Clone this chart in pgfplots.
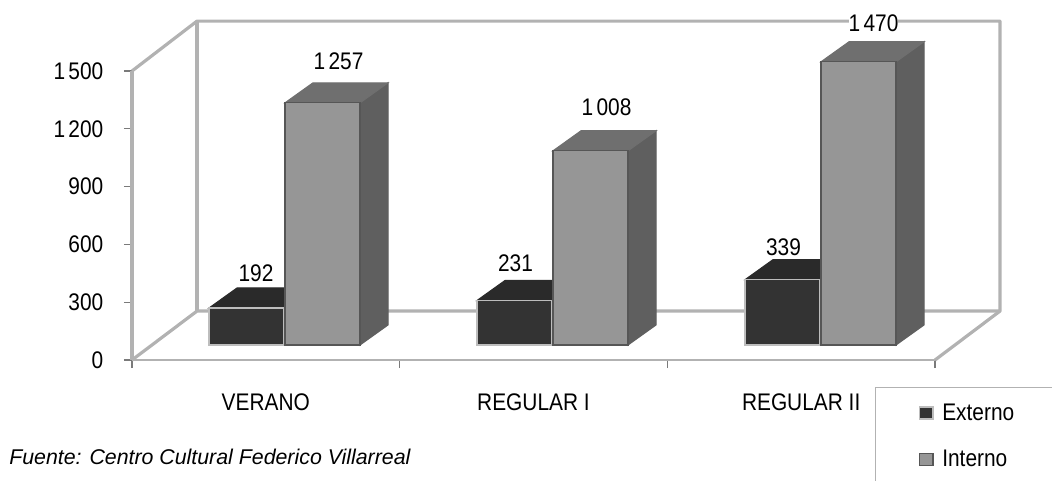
\documentclass[border=0pt]{standalone}
\usepackage{pgfplots}
\pgfplotsset{compat=1.18}
\usepackage{fontspec}
\setmainfont{Liberation Sans}[FakeStretch=0.87]
\newfontfamily\plainf{Liberation Sans}
\definecolor{wall}{HTML}{B2B2B2}
\definecolor{tickc}{HTML}{7A7A7A}
\definecolor{extF}{HTML}{333333}
\definecolor{extT}{HTML}{2A2A2A}
\definecolor{extE}{HTML}{BDBDBD}
\definecolor{intF}{HTML}{969696}
\definecolor{intT}{HTML}{6F6F6F}
\definecolor{intS}{HTML}{5F5F5F}
\definecolor{intE}{HTML}{565656}
\newcommand\lf{\fontsize{18}{21}\selectfont}
% value label: x, value, shift right (px), shift up (px)
\newcommand\vlab[4]{\addplot[forget plot,draw=none,mark=none,nodes near coords,
  nodes near coords style={anchor=center,font=\lf,fill=white,inner sep=0pt,
  xshift=#3*0.75pt,yshift=#4*0.75pt}] coordinates {(#1,#2)};}
% top and side faces: left x of bar, value
\newcommand\topface[3]{\addplot[forget plot,fill=#3,draw=#3,line width=0.8pt] coordinates
  {(#1,#2) (#1+75,#2) (#1+103,#2+104) (#1+28,#2+104)} --cycle;}
\begin{document}
\begin{tikzpicture}
\path[use as bounding box] (0,0) rectangle (789pt,360pt);
\begin{axis}[
  at={(99pt,90pt)},anchor=south west,
  scale only axis,width=602.25pt,height=216.75pt,
  xmin=132,xmax=935,ymin=0,ymax=1500,clip=false,
  axis lines*=left,
  x axis line style={wall,line width=1.6pt,-},
  y axis line style={wall,line width=2.4pt,-},
  xtick={132,399.67,667.33,935},
  xticklabels={VERANO,REGULAR I,REGULAR II},
  x tick label as interval,
  ytick={0,300,600,900,1200,1500},
  tick align=outside,
  tick style={tickc,line width=0.8pt},
  major tick length=6pt,
  tick label style={font=\lf,text=black},
  xticklabel style={yshift=-16pt},
  yticklabel style={xshift=-12pt},
  /pgf/number format/.cd,1000 sep={\kern2.5pt},assume math mode=true,
]
\addplot[wall,line width=2.4pt,line join=round] coordinates {(132,1500) (197,1759) (1000,1759) (1000,254) (935,0)};
\addplot[wall,line width=2.4pt] coordinates {(197,1759) (197,254)};
\addplot[wall,line width=2.4pt] coordinates {(132,0) (197,254) (1000,254)};
\end{axis}
\begin{axis}[
  at={(99pt,90pt)},anchor=south west,
  scale only axis,width=602.25pt,height=216.75pt,
  xmin=132,xmax=935,ymin=-77.8,ymax=1422.2,clip=false,
  axis lines=none,
  legend style={at={(0.9253,-0.0934)},anchor=north west,draw=wall,line width=0.9pt,fill=white,
    inner xsep=32.5pt,inner ysep=10pt,font=\lf,/tikz/row sep=17pt,legend cell align=left},
  legend image code/.code={\draw[#1,line width=1pt] (0pt,-4.5pt) rectangle (10pt,4.5pt);},
  /pgf/number format/.cd,1000 sep={\kern2.5pt},assume math mode=true,
]
% Externo: top faces
\topface{209}{192}{extT}
\topface{477}{231}{extT}
\topface{745}{339}{extT}
% Externo: front faces
\addplot[ybar,bar width=56.25pt,fill=extF,draw=extE,line width=1pt] coordinates {(246.5,192) (514.5,231) (782.5,339)};
\addlegendentry{\hspace*{4.5pt}Externo\hspace*{40pt}}
% Interno: side faces
\addplot[forget plot,fill=intS,draw=intS,line width=0.8pt] coordinates {(360,0) (388,104) (388,1361) (360,1257)} --cycle;
\addplot[forget plot,fill=intS,draw=intS,line width=0.8pt] coordinates {(628,0) (656,104) (656,1112) (628,1008)} --cycle;
\addplot[forget plot,fill=intS,draw=intS,line width=0.8pt] coordinates {(896,0) (924,104) (924,1574) (896,1470)} --cycle;
% Interno: top faces
\topface{285}{1257}{intT}
\topface{553}{1008}{intT}
\topface{821}{1470}{intT}
% Interno: front faces
\addplot[ybar,bar width=56.25pt,fill=intF,draw=intE,line width=1pt] coordinates {(322.5,1257) (590.5,1008) (858.5,1470)};
\addlegendentry{\hspace*{4.5pt}Interno\hspace*{40pt}}
% value labels
\vlab{246.5}{192}{9.5}{35}
\vlab{514.5}{231}{1}{37}
\vlab{782.5}{339}{1}{32}
\vlab{322.5}{1257}{16}{42}
\vlab{590.5}{1008}{16}{44}
\vlab{858.5}{1470}{15}{39}
\end{axis}
\node[anchor=west,inner sep=0pt,font=\plainf\fontsize{16}{19}\selectfont\itshape] at (6.75pt,17.25pt) {Fuente: Centro Cultural Federico Villarreal};
\end{tikzpicture}
\end{document}
